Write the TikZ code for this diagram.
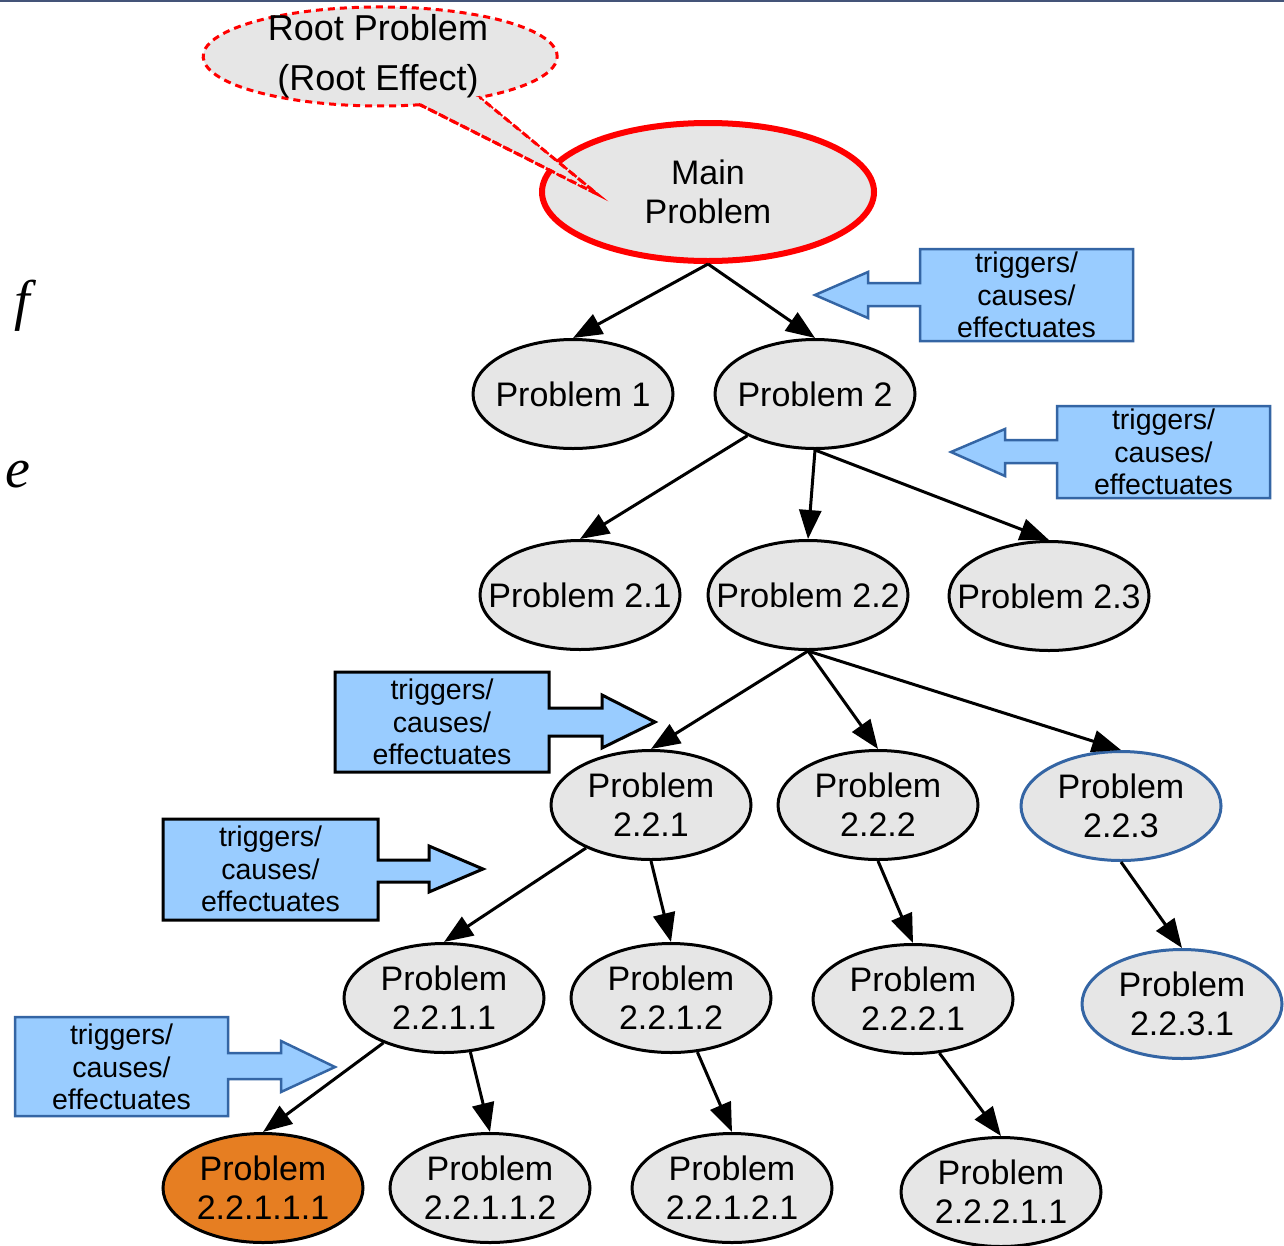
\documentclass[tikz,border=0pt]{standalone}
\usepackage{fontspec}
\newfontfamily\arial{Liberation Sans}
\newfontfamily\timesfont{Liberation Serif}
\usetikzlibrary{arrows.meta,shapes.geometric}
\definecolor{nodegrey}{HTML}{E6E6E6}
\definecolor{boxblue}{HTML}{99CCFF}
\definecolor{edgeblue}{HTML}{3465A4}
\definecolor{orangefill}{HTML}{E67E22}
\definecolor{topbar}{RGB}{68,84,120}
\tikzset{
  prob/.style={ellipse, draw=black, line width=3pt, fill=nodegrey, inner xsep=-30pt, inner ysep=-22pt,
    minimum width=200pt, minimum height=109pt, align=center,
    font=\arial\fontsize{34}{39}\selectfont},
  bluenode/.style={prob, draw=edgeblue},
  edge/.style={line width=3pt, -{Triangle[length=29pt,width=22pt]}},
  bluebox/.style={fill=boxblue, draw=edgeblue, line width=2.5pt, line join=miter},
  blackbox/.style={fill=boxblue, draw=black, line width=3pt, line join=miter},
  boxtext/.style={align=center, inner sep=0pt, font=\arial\fontsize{28.5}{32.5}\selectfont},
  calloutline/.style={draw=red, line width=3pt, dash pattern=on 7pt off 5pt, fill=nodegrey},
  cuttext/.style={inner sep=0pt, font=\timesfont\itshape\fontsize{56}{60}\selectfont}
}
\begin{document}
\begin{tikzpicture}[x=1pt,y=-1pt]
\useasboundingbox (0,0) rectangle (1284,1245);
\fill[white] (0,0) rectangle (1284,1245);
\draw[topbar, line width=3pt] (0,0.5) -- (1284,0.5);

% slide text at the left edge
\node[cuttext, anchor=base east] (of) at (30,319) {f};
\node[cuttext, anchor=base east] (ne) at (31,487) {e};

% nodes
\node[prob, draw=red, line width=6pt, minimum width=332pt, minimum height=138pt] (main) at (708,192) {Main\\Problem};
\node[prob] (p1) at (573,394) {Problem 1};
\node[prob] (p2) at (815,394) {Problem 2};
\node[prob] (p21) at (580,595) {Problem 2.1};
\node[prob] (p22) at (808,595) {Problem 2.2};
\node[prob] (p23) at (1049,596) {Problem 2.3};
\node[prob] (p221) at (651,805) {Problem\\2.2.1};
\node[prob] (p222) at (878,805) {Problem\\2.2.2};
\node[bluenode] (p223) at (1121,806) {Problem\\2.2.3};
\node[prob] (p2211) at (444,998) {Problem\\2.2.1.1};
\node[prob] (p2212) at (671,998) {Problem\\2.2.1.2};
\node[prob] (p2221) at (913,999) {Problem\\2.2.2.1};
\node[bluenode] (p2231) at (1182,1004) {Problem\\2.2.3.1};
\node[prob, fill=orangefill] (p22111) at (263,1188) {Problem\\2.2.1.1.1};
\node[prob] (p22112) at (490,1188) {Problem\\2.2.1.1.2};
\node[prob] (p22121) at (732,1188) {Problem\\2.2.1.2.1};
\node[prob] (p22211) at (1001,1192) {Problem\\2.2.2.1.1};

% edges
\draw[edge] (main.south) -- (p1.north);
\draw[edge] (main.south) -- (p2.north);
\draw[edge] (p2) -- (p21.north);
\draw[edge] (p2.south) -- (p22.north);
\draw[edge] (p2.south) -- (p23.north);
\draw[edge] (p22.south) -- (p221.north);
\draw[edge] (p22.south) -- (p222.north);
\draw[edge] (p22.south) -- (p223.north);
\draw[edge] (p221) -- (p2211.north);
\draw[edge] (p221.south) -- (p2212.north);
\draw[edge] (p222.south) -- (p2221.north);
\draw[edge] (p223.south) -- (p2231.north);
\draw[edge] (p2211) -- (p22111.north);
\draw[edge] (p2211.-64) -- (p22112.north);
\draw[edge] (p2212.-64) -- (p22121.north);
\draw[edge] (p2221.-64) -- (p22211.north);

% block arrows
\draw[bluebox] (1133,249) -- (1133,341) -- (920,341) -- (920,306) -- (868,306) -- (868,318)
  -- (815,295) -- (868,272) -- (868,283) -- (920,283) -- (920,249) -- cycle;
\node[boxtext] (b1) at (1026.5,295) {triggers/\\causes/\\effectuates};

\draw[bluebox] (1270,406) -- (1270,498) -- (1057,498) -- (1057,463) -- (1005,463) -- (1005,476)
  -- (951,452) -- (1005,429) -- (1005,440) -- (1057,440) -- (1057,406) -- cycle;
\node[boxtext] (b2) at (1163.5,452) {triggers/\\causes/\\effectuates};

\draw[blackbox] (335,672) -- (549,672) -- (549,708) -- (602,708) -- (602,695) -- (655,722)
  -- (602,748) -- (602,736) -- (549,736) -- (549,772) -- (335,772) -- cycle;
\node[boxtext] (b3) at (442,722) {triggers/\\causes/\\effectuates};

\draw[blackbox] (163,819) -- (378,819) -- (378,860) -- (429,860) -- (429,846) -- (483,869)
  -- (429,892) -- (429,882) -- (378,882) -- (378,920) -- (163,920) -- cycle;
\node[boxtext] (b4) at (270.5,869) {triggers/\\causes/\\effectuates};

\draw[bluebox] (15,1017) -- (228,1017) -- (228,1053) -- (281,1053) -- (281,1041) -- (335,1067)
  -- (281,1092) -- (281,1079) -- (228,1079) -- (228,1116) -- (15,1116) -- cycle;
\node[boxtext] (b5) at (121.5,1067) {triggers/\\causes/\\effectuates};

% callout
\path[calloutline] (420,104.7) arc[start angle=77, end angle=416, x radius=177, y radius=49.5]
  -- (597,194) -- cycle;
\fill[nodegrey] (425,102) -- (478,97) -- (590,190) -- cycle;
\draw[red, line width=3pt, dash pattern=on 7pt off 5pt] (420,104.7) -- (597,194) -- (480,97.5);
\node[inner sep=0pt, align=center, font=\arial\fontsize{36}{50}\selectfont] (root) at (378,56) {Root Problem\\(Root Effect)};
\end{tikzpicture}
\end{document}
